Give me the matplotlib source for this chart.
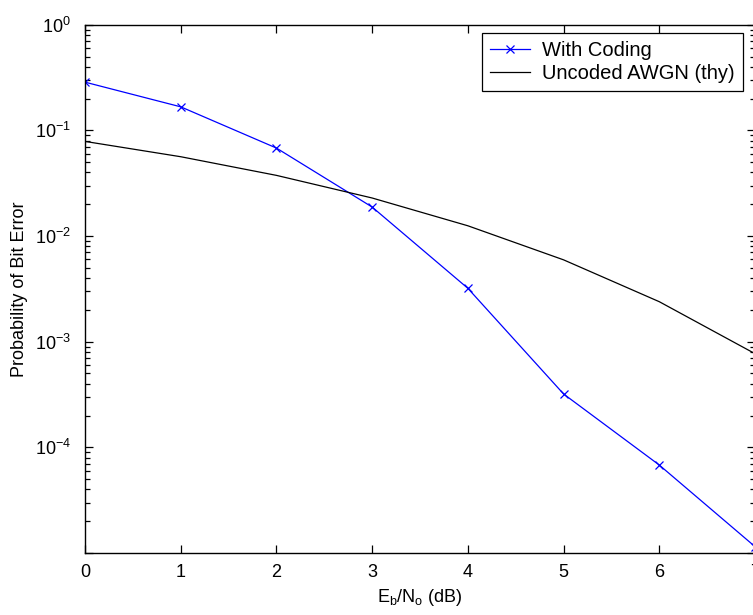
import matplotlib
matplotlib.use("Agg")
import numpy as np
import matplotlib.pyplot as plt
import matplotlib.ticker as mticker

plt.rcParams['font.family'] = ['Liberation Sans', 'DejaVu Sans']
plt.rcParams['mathtext.default'] = 'regular'
plt.rcParams['axes.unicode_minus'] = False

# Eb/No in dB
ebno = [0, 1, 2, 3, 4, 5, 6, 7]
# Simulated BER with coding
ber_coded = [0.286, 0.167, 0.068, 0.0188, 0.0032, 3.2e-4, 6.8e-5, 1.15e-5]
# Theoretical uncoded BPSK in AWGN
ber_uncoded = [0.0786, 0.0563, 0.0375, 0.0229, 0.0125, 0.00595, 0.00239, 7.7e-4]

fig = plt.figure(figsize=(7.53, 6.15), dpi=100)
# right edge of the axes sits just past the image edge, like the original crop
ax = fig.add_axes([85 / 753, 1 - 553 / 615, 670 / 753, 528.3 / 615])

ax.semilogy(ebno, ber_coded, color=(0, 0, 1), lw=0.9, marker='x', ms=6,
            mew=0.9, label='With Coding')
ax.semilogy(ebno, ber_uncoded, color='black', lw=0.9,
            label='Uncoded AWGN (thy)')

ax.set_xlim(0, 7)
ax.set_ylim(1e-5, 1e0)
ax.set_xticks(ebno)
ax.yaxis.set_major_locator(mticker.LogLocator(base=10, numticks=10))
ax.yaxis.set_minor_locator(mticker.LogLocator(base=10, subs=range(2, 10), numticks=10))


def ylab(v, pos):
    e = int(round(np.log10(v)))
    if e < -4:
        return ''
    return r'$10^{%d}$' % e


ax.yaxis.set_major_formatter(mticker.FuncFormatter(ylab))
ax.yaxis.set_minor_formatter(mticker.NullFormatter())

ax.tick_params(which='both', direction='in', top=True, right=True,
               labelsize=13, width=0.9, colors='black')
ax.tick_params(which='major', length=6)
ax.tick_params(which='minor', length=3.5)
ax.tick_params(axis='x', pad=8)
ax.tick_params(axis='y', pad=10)
for s in ax.spines.values():
    s.set_linewidth(1.0)

ax.set_xlabel(r'E$_b$/N$_o$ (dB)', fontsize=13, labelpad=4)
ax.set_ylabel('Probability of Bit Error', fontsize=13, labelpad=5)

leg = ax.legend(loc='upper right', bbox_to_anchor=(743 / 753, 1 - 33 / 615),
                bbox_transform=fig.transFigure, borderaxespad=0, fontsize=14.5,
                fancybox=False, framealpha=1, edgecolor='black',
                handlelength=2.0, handletextpad=0.6, borderpad=0.4,
                labelspacing=0.2)
leg.get_frame().set_linewidth(0.9)

fig.savefig('out.png', dpi=100)
